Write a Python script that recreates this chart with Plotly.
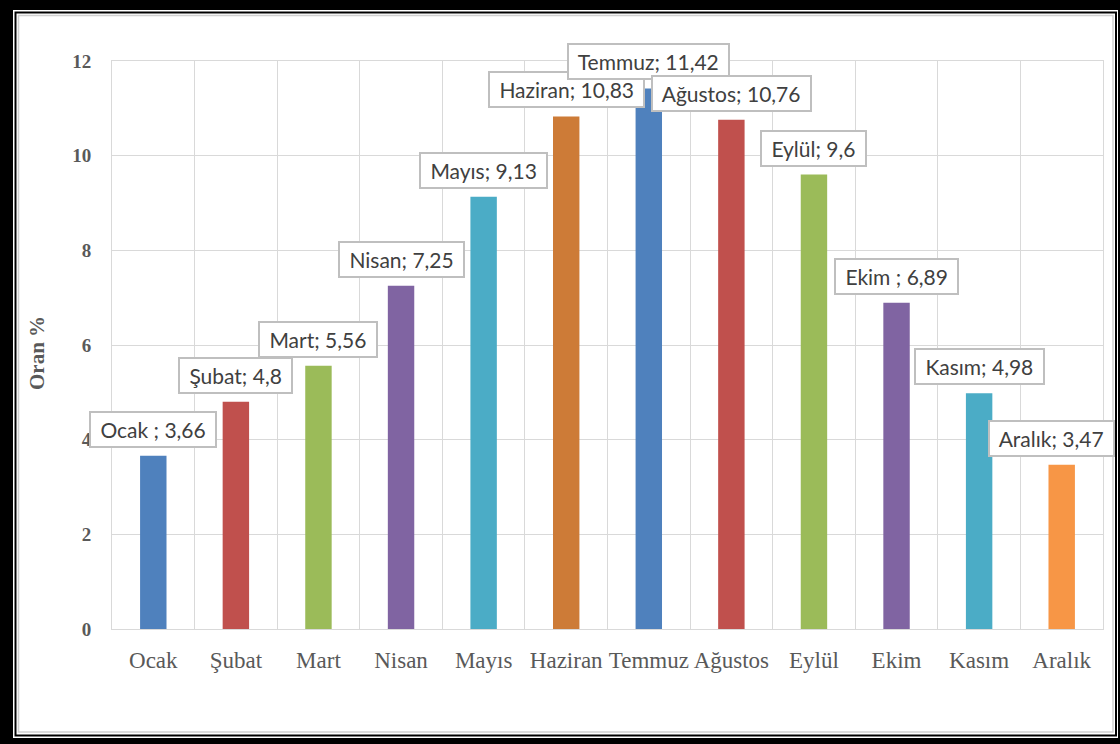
import plotly.graph_objects as go

months = ["Ocak", "Şubat", "Mart", "Nisan", "Mayıs", "Haziran", "Temmuz",
          "Ağustos", "Eylül", "Ekim", "Kasım", "Aralık"]
values = [3.66, 4.8, 5.56, 7.25, 9.13, 10.83, 11.42, 10.76, 9.6, 6.89, 4.98, 3.47]
label_names = ["Ocak ", "Şubat", "Mart", "Nisan", "Mayıs", "Haziran", "Temmuz",
               "Ağustos", "Eylül", "Ekim ", "Kasım", "Aralık"]
y_ticks = [0, 2, 4, 6, 8, 10, 12]

colors = ["#4f81bd", "#c0504d", "#9bbb59", "#8064a2", "#4bacc6", "#cd7b37",
          "#4f81bd", "#c0504d", "#9bbb59", "#8064a2", "#4bacc6", "#f79646"]
label_dx = [0, 0, 0, 0, 0, 0, 0, 0, 0, 0, 0, -10]

W, H = 1120, 744
ML, MR, MT, MB = 112, 17, 61, 115
PW, PH = W - ML - MR, H - MT - MB


def px(x):
    return (x - ML) / PW


def py(y):
    return (H - MB - y) / PH


fig = go.Figure()
fig.add_trace(go.Bar(
    x=months, y=values, marker=dict(color=colors, line=dict(width=0)),
    width=0.32, hoverinfo="x+y",
))

for m, n, v, dx in zip(months, label_names, values, label_dx):
    fig.add_annotation(
        x=m, y=v, xref="x", yref="y",
        text="\u00a0" + n + "; " + f"{v:g}".replace(".", ",") + "\u00a0",
        showarrow=False, xanchor="center", yanchor="bottom",
        xshift=dx, yshift=8,
        font=dict(family="Lato", size=21, color="#404040"),
        bgcolor="white", bordercolor="#bfbfbf", borderwidth=2, borderpad=4,
    )

# y axis title
fig.add_annotation(
    x=px(37), y=py(353), xref="paper", yref="paper",
    text="<b>Oran %</b>", textangle=-90, showarrow=False,
    xanchor="center", yanchor="middle",
    font=dict(family="Liberation Serif", size=21, color="#595959"),
)

shapes = [
    dict(type="rect", xref="paper", yref="paper", layer="below",
         x0=px(13), x1=px(1118), y0=py(10), y1=py(738),
         fillcolor="white", line=dict(width=0)),
    dict(type="rect", xref="paper", yref="paper", layer="below",
         x0=px(15.5), x1=px(1116), y0=py(12.5), y1=py(735.5),
         fillcolor="white", line=dict(color="black", width=2)),
    dict(type="rect", xref="paper", yref="paper", layer="below",
         x0=px(18.5), x1=px(1113), y0=py(15.5), y1=py(732),
         fillcolor="white", line=dict(color="#d0d0d0", width=1.5)),
]

fig.update_layout(
    width=W, height=H,
    margin=dict(l=ML, r=MR, t=MT, b=MB, pad=0, autoexpand=False),
    paper_bgcolor="black", plot_bgcolor="white",
    showlegend=False, shapes=shapes,
    xaxis=dict(
        type="category", range=[-0.5, 11.5], tickson="boundaries",
        showgrid=True, gridcolor="#d9d9d9", gridwidth=1,
        showline=True, mirror=True, linecolor="#d9d9d9", linewidth=1,
        ticks="", ticklabelstandoff=10, tickangle=0, automargin=False,
        tickfont=dict(family="Liberation Serif", size=23, color="#595959"),
    ),
    yaxis=dict(
        range=[0, 12], tickvals=y_ticks, ticktext=[str(t) for t in y_ticks],
        showgrid=True, gridcolor="#d9d9d9", gridwidth=1, zeroline=False,
        showline=True, mirror=True, linecolor="#d9d9d9", linewidth=1,
        ticks="", ticklabelstandoff=16, automargin=False,
        tickfont=dict(family="Liberation Serif", size=19, color="#595959",
                      weight="bold"),
    ),
)

fig.write_html("out.html")
